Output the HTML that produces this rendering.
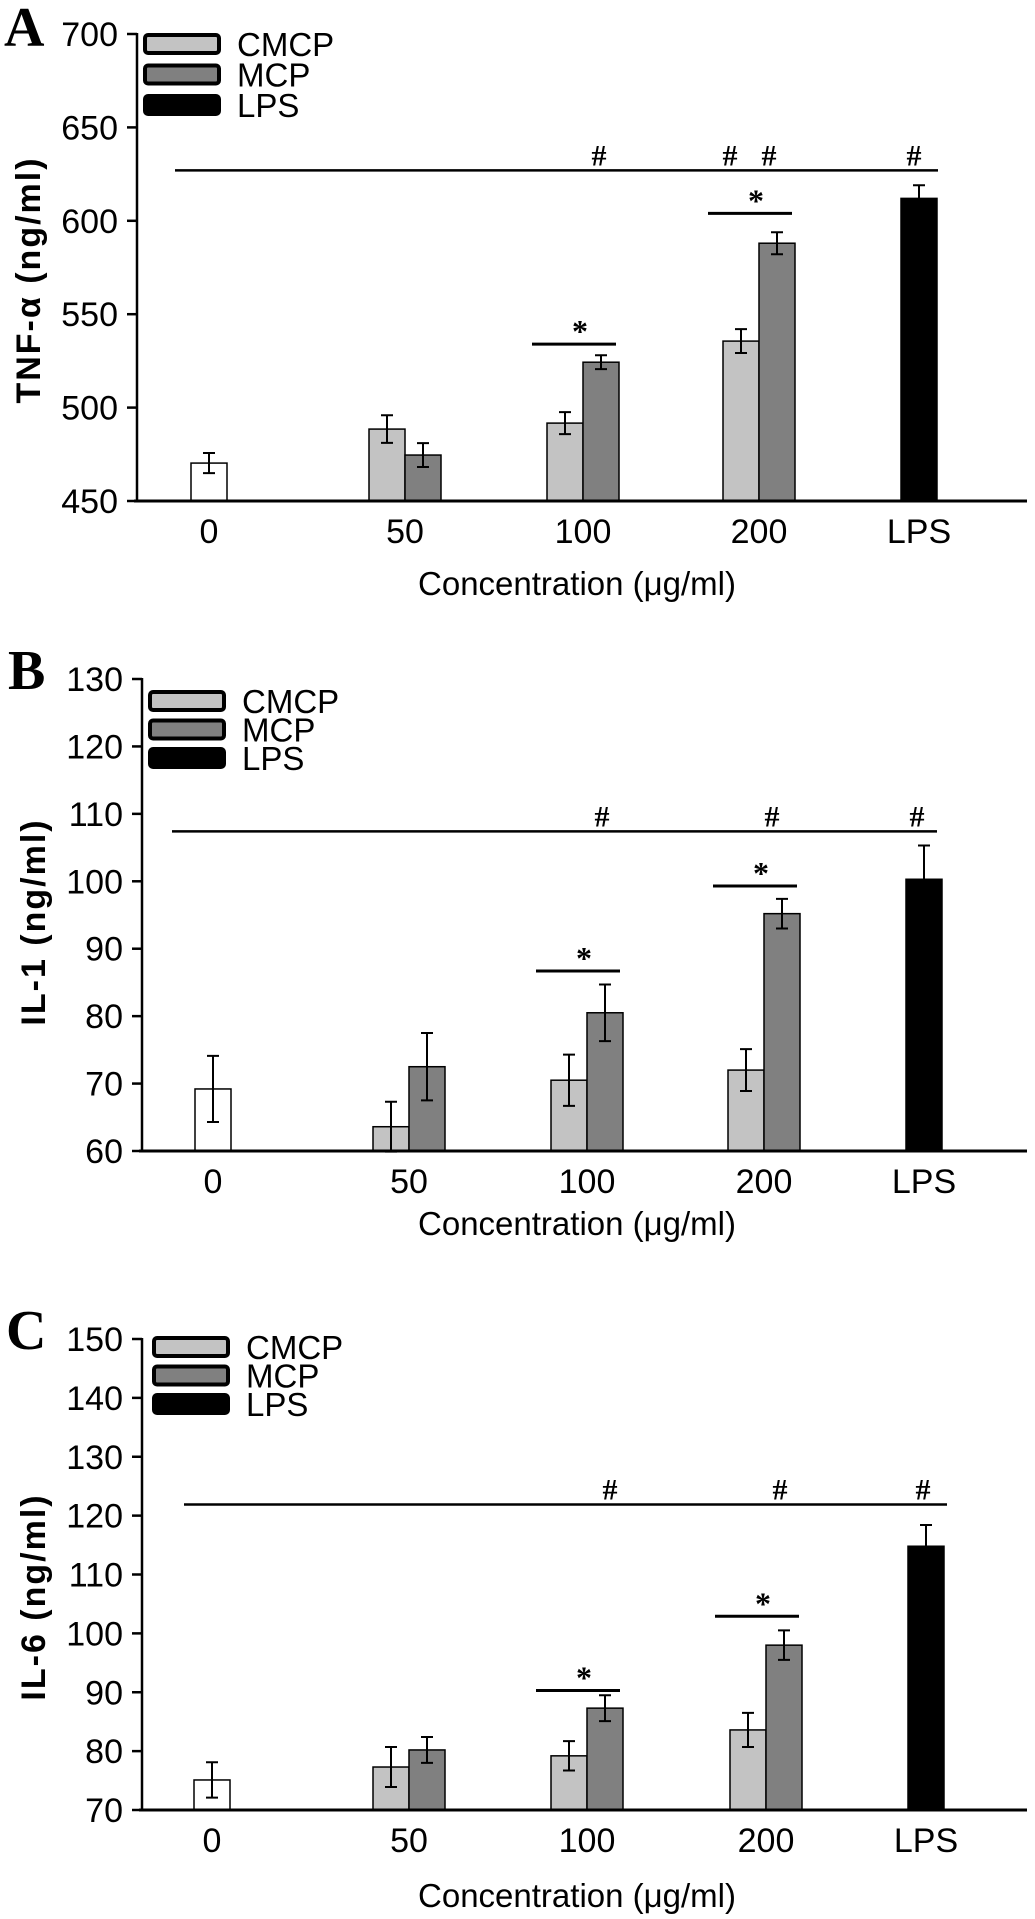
<!DOCTYPE html>
<html><head><meta charset="utf-8">
<style>
html,body{margin:0;padding:0;background:#fff;}
svg{display:block;}
text{font-family:"Liberation Sans",Arial,sans-serif;fill:#000;}
.serif{font-family:"Liberation Serif","Times New Roman",serif;font-weight:bold;}
</style></head>
<body>
<svg id="fig" width="1035" height="1919" viewBox="0 0 1035 1919" xmlns="http://www.w3.org/2000/svg"></svg>
<script>
// ---- data ----
const categories = ["0","50","100","200","LPS"];
const seriesNames = ["CMCP","MCP","LPS"];
// Panel A: TNF-alpha
const tnfControl = [470.3]; const tnfControlErr = [5.4];
const tnfCMCP = [488.5, 491.7, 535.6]; const tnfCMCPErr = [7.4, 5.9, 6.4];
const tnfMCP = [474.6, 524.3, 588.0]; const tnfMCPErr = [6.4, 3.7, 5.9];
const tnfLPS = [612.0]; const tnfLPSErr = [7.0];
const tnfTicks = [450, 500, 550, 600, 650, 700];
// Panel B: IL-1
const il1Control = [69.2]; const il1ControlErr = [4.9];
const il1CMCP = [63.6, 70.5, 72.0]; const il1CMCPErr = [3.7, 3.8, 3.1];
const il1MCP = [72.5, 80.5, 95.2]; const il1MCPErr = [5.0, 4.2, 2.2];
const il1LPS = [100.3]; const il1LPSErr = [5.0];
const il1Ticks = [60, 70, 80, 90, 100, 110, 120, 130];
// Panel C: IL-6
const il6Control = [75.1]; const il6ControlErr = [3.0];
const il6CMCP = [77.3, 79.2, 83.6]; const il6CMCPErr = [3.4, 2.5, 2.9];
const il6MCP = [80.2, 87.3, 98.0]; const il6MCPErr = [2.2, 2.2, 2.5];
const il6LPS = [114.8]; const il6LPSErr = [3.6];
const il6Ticks = [70, 80, 90, 100, 110, 120, 130, 140, 150];
// significance levels (data units)
const tnfSig = [627, 534, 604];
const il1Sig = [107.4, 86.7, 99.3];
const il6Sig = [121.9, 90.3, 102.9];

const NS = "http://www.w3.org/2000/svg";
const svg = document.getElementById("fig");
function mk(tag, attrs, parent, txt){
  const e = document.createElementNS(NS, tag);
  for (const k in attrs) e.setAttribute(k, attrs[k]);
  if (txt !== undefined) e.textContent = txt;
  (parent || svg).appendChild(e);
  return e;
}

function panel(cfg){
  const g = mk("g", {});
  
  
  const y = v => cfg.yBot - (v - cfg.min) / (cfg.max - cfg.min) * (cfg.yBot - cfg.yTop);
  const cx = i => cfg.centers[i];
  const BW = 36;

  const lt = mk("text", {x: cfg.letterX, y: cfg.letterY, "font-size": 56, class: "serif"}, g, cfg.letter);
  
  

  const ya = mk("line", {x1: cfg.ax, y1: cfg.yTop - 1, x2: cfg.ax, y2: cfg.yBot, stroke: "#000", "stroke-width": 2.5}, g);
  
  
  cfg.ticks.forEach(t => {
    const tk = mk("line", {x1: cfg.ax - 10, y1: y(t), x2: cfg.ax, y2: y(t), stroke: "#000", "stroke-width": 2.5}, g);
    
    
    const tl = mk("text", {x: cfg.ax - 19, y: y(t) + 12, "font-size": 34, "text-anchor": "end"}, g, String(t));
    
    
  });
  const yt = mk("text", {x: 0, y: 0, "font-size": 34, "font-weight": "bold", "letter-spacing": "2", "text-anchor": "middle",
    transform: `translate(${cfg.ax - 97},${cfg.yTitleY}) rotate(-90)`}, g, cfg.yTitle);
  
  

  function bar(x0, v, e, fill, name){
    const r = mk("rect", {x: x0, y: y(v), width: BW, height: cfg.yBot - y(v), fill: fill, stroke: "#000", "stroke-width": 1.5}, g);
    
    
    const mx = x0 + BW / 2;
    const eb = mk("path", {d: `M${mx},${y(v - e)}V${y(v + e)}M${mx - 6},${y(v + e)}H${mx + 6}M${mx - 6},${y(v - e)}H${mx + 6}`,
      stroke: "#000", "stroke-width": 2, fill: "none"}, g);
    
    
  }
  bar(cx(0) - BW / 2, cfg.control[0], cfg.controlErr[0], "#fff", "bar-control");
  for (let i = 0; i < 3; i++) {
    bar(cx(i + 1) - BW, cfg.cmcp[i], cfg.cmcpErr[i], "#c3c3c3", "bar-cmcp-" + categories[i + 1]);
    bar(cx(i + 1), cfg.mcp[i], cfg.mcpErr[i], "#808080", "bar-mcp-" + categories[i + 1]);
  }
  bar(cx(4) - BW / 2, cfg.lps[0], cfg.lpsErr[0], "#000", "bar-lps");

  const xa = mk("line", {x1: cfg.ax - 3, y1: cfg.yBot, x2: 1027, y2: cfg.yBot, stroke: "#000", "stroke-width": 3}, g);
  
  
  categories.forEach((c, i) => {
    const xl = mk("text", {x: cx(i), y: cfg.yBot + 42, "font-size": 34, "text-anchor": "middle"}, g, c);
    
    
  });
  const xt = mk("text", {x: 577, y: cfg.xTitleY, "font-size": 33, "text-anchor": "middle"}, g, "Concentration (\u03bcg/ml)");
  
  

  const hl = mk("line", {x1: cfg.hashX[0], y1: y(cfg.sig[0]), x2: cfg.hashX[1], y2: y(cfg.sig[0]), stroke: "#000", "stroke-width": 2.5}, g);
  
  
  cfg.hashMarks.forEach(hx => {
    const h = mk("text", {x: hx, y: y(cfg.sig[0]) - 5, "font-size": 30, "text-anchor": "middle", class: "serif"}, g, "#");
    
    
  });
  [1, 2].forEach(k => {
    const c = cx(k + 1);
    const sl = mk("line", {x1: c - 51, y1: y(cfg.sig[k]), x2: c + 33, y2: y(cfg.sig[k]), stroke: "#000", "stroke-width": 3}, g);
    
    
    const st = mk("text", {x: c - 3, y: y(cfg.sig[k]) - 2, "font-size": 32, "text-anchor": "middle", class: "serif"}, g, "*");
    
    
  });

  const fills = ["#c3c3c3", "#808080", "#000"];
  seriesNames.forEach((s, i) => {
    const ry = cfg.legY + i * cfg.legStep;
    const lr = mk("rect", {x: cfg.legX + 2, y: ry + 2, width: 74, height: 18, rx: 3, fill: fills[i], stroke: "#000", "stroke-width": 4}, g);
    
    
    const lt2 = mk("text", {x: cfg.legX + 94, y: ry + 23, "font-size": 33}, g, s);
    
    
  });
}

panel({id: "tnf", letter: "A", letterX: 4, letterY: 46, ax: 137, yTop: 34, yBot: 501, min: 450, max: 700,
  ticks: tnfTicks, yTitle: "TNF-\u03b1 (ng/ml)", yTitleY: 280, xTitleY: 595,
  centers: [209, 405, 583, 759, 919],
  control: tnfControl, controlErr: tnfControlErr, cmcp: tnfCMCP, cmcpErr: tnfCMCPErr,
  mcp: tnfMCP, mcpErr: tnfMCPErr, lps: tnfLPS, lpsErr: tnfLPSErr,
  sig: tnfSig, hashX: [175, 938], hashMarks: [599, 730, 769, 914],
  legX: 143, legY: 33, legStep: 30.5});

panel({id: "il1", letter: "B", letterX: 8, letterY: 689, ax: 142, yTop: 679, yBot: 1151, min: 60, max: 130,
  ticks: il1Ticks, yTitle: "IL-1 (ng/ml)", yTitleY: 922, xTitleY: 1235,
  centers: [213, 409, 587, 764, 924],
  control: il1Control, controlErr: il1ControlErr, cmcp: il1CMCP, cmcpErr: il1CMCPErr,
  mcp: il1MCP, mcpErr: il1MCPErr, lps: il1LPS, lpsErr: il1LPSErr,
  sig: il1Sig, hashX: [172, 937], hashMarks: [602, 772, 917],
  legX: 148, legY: 690, legStep: 28.5});

panel({id: "il6", letter: "C", letterX: 6, letterY: 1349, ax: 142, yTop: 1339, yBot: 1810, min: 70, max: 150,
  ticks: il6Ticks, yTitle: "IL-6 (ng/ml)", yTitleY: 1597, xTitleY: 1907,
  centers: [212, 409, 587, 766, 926],
  control: il6Control, controlErr: il6ControlErr, cmcp: il6CMCP, cmcpErr: il6CMCPErr,
  mcp: il6MCP, mcpErr: il6MCPErr, lps: il6LPS, lpsErr: il6LPSErr,
  sig: il6Sig, hashX: [184, 947], hashMarks: [610, 780, 923],
  legX: 152, legY: 1336, legStep: 28.5});
</script>
</body></html>
